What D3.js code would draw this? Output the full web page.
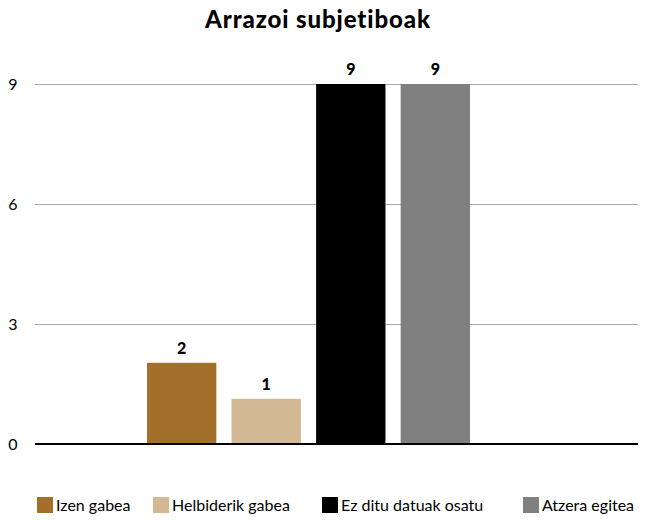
<!DOCTYPE html>
<html>
<head>
<meta charset="utf-8">
<script src="https://cdn.jsdelivr.net/npm/d3@7"></script>
<style>
  body { margin: 0; background: #fff; }
  text { font-family: "Gill Sans", Lato, "Open Sans", sans-serif; fill: #000; }
</style>
</head>
<body>
<div id="chart"></div>
<script>
var Width = 646;
var Height = 520;

// data
var categories = ["Izen gabea", "Helbiderik gabea", "Ez ditu datuak osatu", "Atzera egitea"];
var values = [2.03, 1.13, 9, 9];
var colors = ["#a3702b", "#d3b894", "#000000", "#808080"];
var yTicks = [0, 3, 6, 9];
var title = "Arrazoi subjetiboak";

var margin = {top: 84, right: 8, bottom: 76, left: 35},
    width = Width - margin.left - margin.right,
    height = Height - margin.top - margin.bottom;

var svg = d3.select("#chart")
  .append("svg")
    .attr("width", Width)
    .attr("height", Height);

// title
svg.append("text")
  .attr("x", 318)
  .attr("y", 28)
  .attr("text-anchor", "middle")
  .style("font-size", "24px")
  .style("font-weight", "900")
  .style("letter-spacing", "0.9px")
  .text(title);

var g = svg.append("g")
  .attr("transform", "translate(" + margin.left + "," + margin.top + ")");

var y = d3.scaleLinear()
  .domain([0, 9])
  .range([height, 0]);

// bars don't sit centred in the plot, they start around x=147
var x = d3.scaleBand()
  .domain(categories)
  .range([147 - margin.left, 470 - margin.left])
  .paddingInner(0.18)
  .paddingOuter(0);

// gridlines
g.append("g")
  .selectAll("line")
  .data(yTicks.filter(function(d) { return d > 0; }))
  .enter()
  .append("line")
    .attr("x1", 0)
    .attr("x2", width)
    .attr("y1", function(d) { return y(d) + 0.5; })
    .attr("y2", function(d) { return y(d) + 0.5; })
    .style("stroke", "#a6a6a6")
    .style("stroke-width", 1);

// y tick labels
g.append("g")
  .selectAll("text")
  .data(yTicks)
  .enter()
  .append("text")
    .attr("x", -22)
    .attr("y", function(d) { return y(d); })
    .attr("dy", "0.35em")
    .attr("text-anchor", "middle")
    .style("font-size", "16px")
    .text(function(d) { return d; });

// bars
g.append("g")
  .selectAll("rect")
  .data(values)
  .enter()
  .append("rect")
    .attr("x", function(d, i) { return x(categories[i]); })
    .attr("y", function(d) { return y(d); })
    .attr("width", x.bandwidth())
    .attr("height", function(d) { return height - y(d); })
    .style("fill", function(d, i) { return colors[i]; });

// value labels
g.append("g")
  .selectAll("text")
  .data(values)
  .enter()
  .append("text")
    .attr("x", function(d, i) { return x(categories[i]) + x.bandwidth() / 2; })
    .attr("y", function(d) { return y(d) - 9; })
    .attr("text-anchor", "middle")
    .style("font-size", "16px")
    .style("font-weight", "900")
    .text(function(d) { return d3.format(".0f")(d); });

// baseline
g.append("line")
  .attr("x1", 0)
  .attr("x2", width)
  .attr("y1", y(0))
  .attr("y2", y(0))
  .style("stroke", "#000")
  .style("stroke-width", 2);

// legend
var legendX = [37, 153, 322, 523];
var legend = svg.append("g")
  .selectAll("g")
  .data(categories)
  .enter()
  .append("g")
    .attr("transform", function(d, i) { return "translate(" + legendX[i] + ",497)"; });

legend.append("rect")
  .attr("width", 16)
  .attr("height", 16)
  .style("fill", function(d, i) { return colors[i]; });

legend.append("text")
  .attr("x", 19)
  .attr("y", 8)
  .attr("dy", "0.35em")
  .style("font-size", "16px")
  .text(function(d) { return d; });
</script>
</body>
</html>
